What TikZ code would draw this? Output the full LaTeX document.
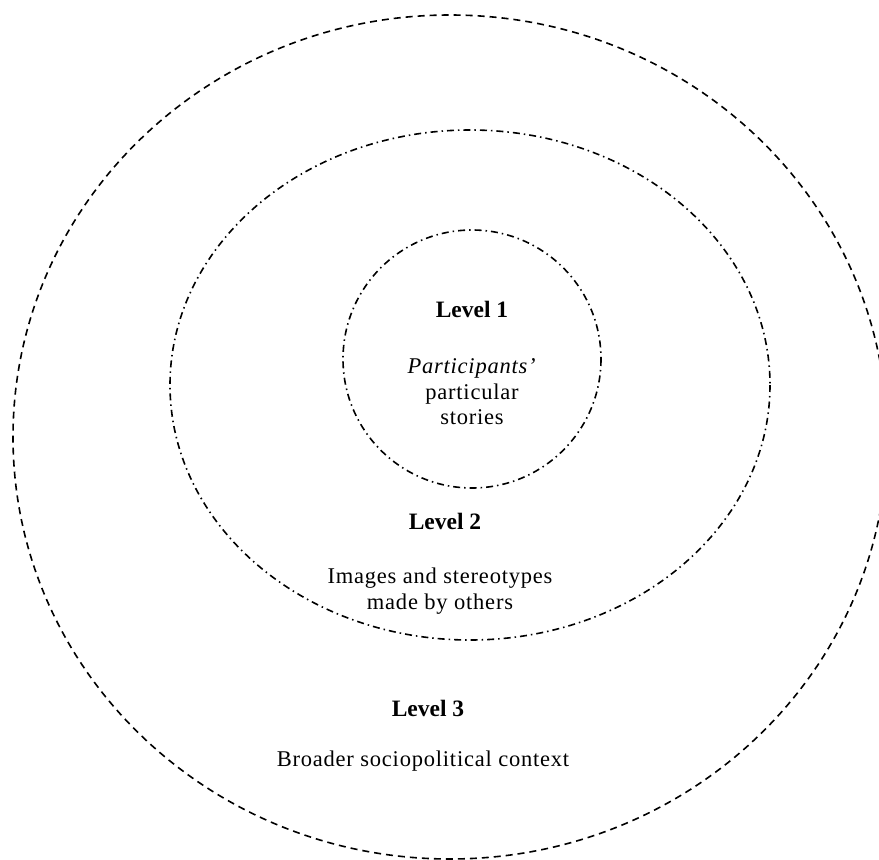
\documentclass[tikz,border=0pt]{standalone}
\usepackage{fontspec}
\setmainfont{Liberation Serif}
\newfontfamily\spacedserif[LetterSpace=3.5]{Liberation Serif}
\begin{document}
\begin{tikzpicture}[x=1pt,y=-1pt,
  ring/.style={line width=1.6pt},
  outerring/.style={ring, dash pattern=on 7pt off 5pt},
  dotring/.style={ring, dash pattern=on 7pt off 4pt on 1.5pt off 4pt},
  lvl/.style={font=\fontsize{23.5}{26}\selectfont\bfseries, inner sep=0pt},
  desc/.style={font=\spacedserif\fontsize{22.5}{25.5}\selectfont, align=center, inner sep=0pt}]
\useasboundingbox (0,0) rectangle (879,860);
\clip (0,0) rectangle (879,860);
% three nested levels
\draw[outerring] (450,437) ellipse [x radius=437, y radius=422];
\draw[dotring] (470,385) ellipse [x radius=300, y radius=255];
\draw[dotring] (472,359) ellipse [x radius=129, y radius=129];
% labels
\node[lvl] (l1) at (472,309) {Level 1};
\node[desc] (d1) at (472,392) {\textit{Participants’}\\particular\\stories};
\node[lvl] (l2) at (445,521) {Level 2};
\node[desc] (d2) at (440,591) {Images and stereotypes\\made by others};
\node[lvl] (l3) at (428,708) {Level 3};
\node[desc] (d3) at (423,761) {Broader sociopolitical context};
\end{tikzpicture}
\end{document}
